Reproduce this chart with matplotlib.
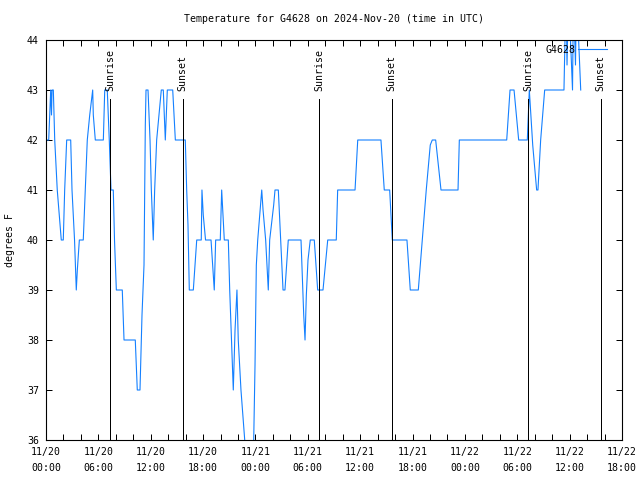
import matplotlib
matplotlib.use("Agg")
import matplotlib.pyplot as plt
import numpy as np

plt.rcParams['font.family'] = ['DejaVu Sans Mono']
plt.rcParams['font.size'] = 7.1

title = "Temperature for G4628 on 2024-Nov-20 (time in UTC)"
station = "G4628"

# hours since 2024-11-20 00:00 UTC
hours = [0.08, 0.31, 0.54, 0.63, 0.69, 0.84, 1.00, 1.29, 1.75, 1.98, 2.14, 2.37, 2.83,
         2.98, 3.27, 3.47, 3.59, 3.82, 4.27, 4.50, 4.73, 5.01, 5.35, 5.42, 5.65, 6.57,
         6.73, 7.02, 7.25, 7.45, 7.71, 7.85, 8.06, 8.74, 8.94, 10.23, 10.46, 10.77,
         11.00, 11.23, 11.38, 11.46, 11.69, 11.92, 12.07, 12.18, 12.29, 12.45, 12.68,
         13.21, 13.44, 13.67, 13.90, 14.52, 14.82, 15.96, 16.12, 16.27, 16.42, 16.88,
         17.27, 17.79, 17.87, 18.02, 18.28, 18.91, 19.28, 19.44, 19.97, 20.13, 20.43,
         20.89, 21.05, 21.46, 21.66, 21.88, 22.03, 22.34, 22.77, 23.26, 23.80, 23.95,
         24.10, 24.26, 24.72, 24.87, 25.17, 25.47, 25.63, 26.09, 26.24, 26.62, 27.16,
         27.38, 27.76, 29.22, 29.53, 29.68, 29.83, 30.02, 30.28, 30.74, 31.13, 31.74,
         32.28, 33.26, 33.42, 35.41, 35.72, 38.38, 38.76, 39.38, 39.68, 41.36, 41.74,
         42.66, 43.12, 43.57, 44.03, 44.26, 44.65, 45.26, 47.21, 47.36, 52.79, 53.17,
         53.63, 54.16, 55.15, 55.38, 55.77, 56.22, 56.37, 56.68, 57.14, 59.35, 59.58,
         59.70, 59.87, 60.33, 60.44, 60.67, 60.79, 61.27]
temps = [42, 42, 43, 42.5, 43, 43, 42, 41, 40, 40, 41, 42, 42,
         41, 40, 39, 39.4, 40, 40, 41, 42, 42.5, 43, 42.5, 42, 42,
         43, 43, 42, 41, 41, 40, 39, 39, 38, 38, 37, 37,
         38.5, 39.5, 42.3, 43, 43, 42, 41, 40.5, 40, 41, 42,
         43, 43, 42, 43, 43, 42, 42, 41, 40.3, 39, 39,
         40, 40, 41, 40.5, 40, 40, 39, 40, 40, 41, 40,
         40, 39, 37, 38.2, 39, 38, 37, 36, 35, 36, 37.5,
         39.5, 40, 41, 40.6, 40, 39, 40, 40.7, 41, 41, 39,
         39, 40, 40, 38.5, 38, 38.9, 39.6, 40, 40, 39, 39,
         40, 40, 41, 41, 42, 42, 41, 41, 40, 40, 39,
         39, 40, 41, 41.9, 42, 42, 41, 41, 42, 42, 43,
         43, 42, 42, 43, 41.9, 41, 41, 42, 43, 43, 45,
         43.5, 45, 43, 45, 43.5, 45, 43]

sun_hours = [7.37, 15.66, 31.32, 39.61, 55.26, 63.56]
sun_names = ["Sunrise", "Sunset", "Sunrise", "Sunset", "Sunrise", "Sunset"]

xtick_hours = [0, 6, 12, 18, 24, 30, 36, 42, 48, 54, 60, 66]
xtick_labels = ["11/20\n00:00", "11/20\n06:00", "11/20\n12:00", "11/20\n18:00",
                "11/21\n00:00", "11/21\n06:00", "11/21\n12:00", "11/21\n18:00",
                "11/22\n00:00", "11/22\n06:00", "11/22\n12:00", "11/22\n18:00"]
yticks = [36, 37, 38, 39, 40, 41, 42, 43, 44]

fig = plt.figure(figsize=(6.4, 4.8), dpi=100)
ax = fig.add_axes([46/640, 40/480, 576/640, 400/480])

ax.plot(hours, temps, color='#1480ff', lw=0.8, label=station, antialiased=True)

for h, name in zip(sun_hours, sun_names):
    ax.plot([h, h], [36, 42.81], color='black', lw=0.72, antialiased=False)
    ax.text(h, 42.97, name, rotation=90, ha='center', va='bottom')

ax.set_xlim(0, 66)
ax.set_ylim(36, 44)
ax.set_xticks(xtick_hours)
ax.set_xticklabels(xtick_labels, linespacing=1.7)
ax.set_xticks(np.arange(0, 67, 2), minor=True)
ax.set_yticks(yticks)
ax.set_yticklabels([str(v) for v in yticks])
ax.tick_params(axis='both', which='both', direction='in', length=4, width=0.72,
               top=True, right=True)
ax.tick_params(axis='x', which='major', pad=5)
ax.tick_params(axis='y', which='major', pad=5)
for s in ax.spines.values():
    s.set_linewidth(0.8)

ax.legend(loc='upper right', bbox_to_anchor=(1 - 10/576, 1), frameon=False,
          markerfirst=False, handlelength=2.9, borderaxespad=0.2, borderpad=0.3,
          handletextpad=0.3, fontsize=7.1)

fig.text(334/640, 1 - 19/480, title, ha='center', va='center')
fig.text(10/640, 0.5, "degrees F", rotation=90, ha='center', va='center')

fig.savefig("out.png", dpi=100)
